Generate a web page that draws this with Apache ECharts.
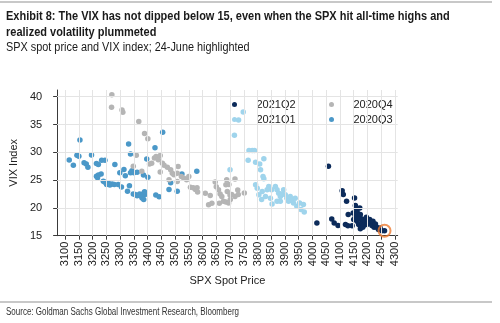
<!DOCTYPE html>
<html>
<head>
<meta charset="utf-8">
<script src="https://cdn.jsdelivr.net/npm/echarts@6/dist/echarts.min.js"></script>
<style>
html,body{margin:0;padding:0;background:#fff;}
#c{width:500px;height:323px;}
</style>
</head>
<body>
<div id="c"></div>
<script>
// ---- Data ----
var xTicks = [3100,3150,3200,3250,3300,3350,3400,3450,3500,3550,3600,3650,3700,3750,3800,3850,3900,3950,4000,4050,4100,4150,4200,4250,4300];
var yTicks = [15,20,25,30,35,40];

var names = ['2021Q2','2021Q1','2020Q4','2020Q3'];

var q3_2020 = [
 [3115,28.6],[3130,27.65],[3143,29.45],[3150,29.3],[3154,32.2],[3169,28.1],[3177,27.9],[3183,27.3],
 [3196,29.5],[3214,28.0],[3221,27.8],[3214,25.7],[3221,25.9],[3218,25.4],[3231,26.1],[3233,28.55],
 [3245,28.55],[3239,24.8],[3245,24.6],[3251,24.2],[3257,24.5],[3263,24.1],[3271,24.3],[3279,24.2],
 [3281,27.8],[3293,24.2],[3299,26.3],[3305,23.75],[3314,26.9],[3319,25.8],[3327,23.0],[3331,31.5],
 [3334,24.0],[3338,29.7],[3338,26.3],[3343,26.7],[3350,26.3],[3348,22.5],[3355,22.4],[3362,26.4],
 [3362,22.2],[3371,22.5],[3377,22.1],[3383,22.5],[3386,21.5],[3391,22.4],[3397,28.8],[3385,25.9],
 [3401,25.5],[3427,30.8],[3430,22.3],[3442,22.0],[3455,33.6],[3478,23.3],[3484,24.5],[3508,23.0],
 [3525,26.1],[3579,26.6],[3380,21.8],[3389,22.9]
];

var q4_2020 = [
 [3270,40.35],[3269,38.1],[3307,37.6],[3310,37.2],[3368,35.55],[3389,33.4],[3401,32.45],[3359,29.45],
 [3348,27.5],[3379,26.6],[3407,27.9],[3415,28.05],[3425,28.95],[3431,29.25],[3439,28.65],[3446,29.4],
 [3446,26.45],[3454,28.05],[3460,27.65],[3472,27.3],[3484,26.85],[3490,26.25],[3478,25.05],[3496,25.95],
 [3511,27.45],[3508,26.25],[3508,24.75],[3523,25.65],[3532,25.35],[3542,25.05],[3550,25.65],[3556,23.7],
 [3566,23.6],[3574,23.3],[3582,22.85],[3580,23.6],[3610,22.65],[3628,22.25],[3622,20.55],[3634,20.85],
 [3646,24.65],[3650,23.8],[3658,23.25],[3664,22.5],[3661,20.85],[3670,22.05],[3676,21.2],[3685,24.15],
 [3688,25.05],[3690,22.95],[3685,21.05],[3700,22.3],[3696,24.2],[3706,22.4],[3718,22.05],[3730,22.4],
 [3701,21.5],[3695,20.9],[3718,25.2],[3728,23.2],[3752,22.7]
];

var q1_2021 = [
 [3700,26.85],[3716,33.05],[3731,35.8],[3748,37.25],[3769,30.3],[3781,30.3],[3789,30.3],[3766,28.55],
 [3793,28.2],[3808,27.9],[3823,28.85],[3811,26.85],[3820,25.65],[3823,25.25],[3793,24.15],[3799,23.55],
 [3805,22.35],[3817,22.95],[3829,22.05],[3835,23.25],[3841,23.85],[3851,23.25],[3847,21.75],[3865,23.85],
 [3871,23.25],[3877,22.65],[3883,22.05],[3889,22.5],[3895,23.25],[3901,22.35],[3907,21.75],[3913,21.2],
 [3919,22.05],[3925,21.5],[3931,20.9],[3937,21.75],[3943,20.3],[3953,20.9],[3958,19.7],[3967,20.6],
 [3970,19.25],[3853,20.7],[3871,21.2],[3815,21.5],[3883,21.2]
];

var q2_2021 = [
 [4058,27.5],[4016,17.3],[4070,18.0],[4079,17.3],[4093,16.85],[4108,23.1],[4112,22.4],[4124,21.2],
 [4130,18.8],[4120,17.0],[4129,16.8],[4144,16.8],[4153,21.8],[4156,20.45],[4160,19.85],[4162,19.4],
 [4165,18.9],[4162,17.6],[4168,17.0],[4174,18.8],[4177,18.05],[4180,17.3],[4184,17.9],[4186,16.85],
 [4192,17.6],[4196,18.3],[4198,17.0],[4202,17.6],[4208,17.9],[4210,17.3],[4216,16.85],[4220,17.6],
 [4224,16.5],[4229,17.1],[4234,16.5],[4240,16.1],[4246,16.4],[4252,15.9],[4174,16.25],[4150,17.9],
 [4148,19.1],[4156,18.5],[4168,18.05],[4172,20.0],[4183,16.5],[4262,15.9]
];

var highlight24June = [[4262,15.9]];

var titleLine1 = 'Exhibit 8: The VIX has not dipped below 15, even when the SPX hit all-time highs and';
var titleLine2 = 'realized volatility plummeted';
var subtitle = 'SPX spot price and VIX index; 24-June highlighted';
var sourceText = 'Source: Goldman Sachs Global Investment Research, Bloomberg';

// ---- Chart ----
var chart = echarts.init(document.getElementById('c'), null, {renderer:'canvas'});
var colors = {'2021Q2':'#0c2b5a','2021Q1':'#9fd4ec','2020Q4':'#b5b5b5','2020Q3':'#4b98c8'};
var seriesData = {'2021Q2':q2_2021,'2021Q1':q1_2021,'2020Q4':q4_2020,'2020Q3':q3_2020};
var drawOrder = ['2020Q3','2020Q4','2021Q1','2021Q2'];

var gridColor = '#e4e4e4';
var series = drawOrder.map(function(n){
  return {name:n,type:'scatter',data:seriesData[n],symbol:'circle',symbolSize:5.5,
    itemStyle:{color:colors[n],opacity:1},emphasis:{disabled:true},z:3};
});
// gridlines drawn via markLine on a hidden helper series
series.unshift({
  name:'grid',type:'scatter',data:[],silent:true,z:1,
  markLine:{silent:true,symbol:['none','none'],label:{show:false},animation:false,
    lineStyle:{color:gridColor,width:1,type:'solid'},
    data: xTicks.map(function(v){return {xAxis:v};})
      .concat(yTicks.filter(function(v){return v>15;}).map(function(v){return {yAxis:v};}))
  }
});
series.push({name:'24-June',type:'scatter',data:highlight24June,symbol:'circle',symbolSize:12,
  itemStyle:{color:'rgba(0,0,0,0)',borderColor:'#ee7a30',borderWidth:2},z:5,emphasis:{disabled:true}});

var legPos = [
  {name:'2021Q2',left:232,top:98},
  {name:'2021Q1',left:232,top:113},
  {name:'2020Q4',left:329,top:98},
  {name:'2020Q3',left:329,top:113}
];
var sans = '"Liberation Sans", Arial, sans-serif';
var legends = legPos.map(function(p){
  return {data:[p.name],left:p.left,top:p.top,padding:0,itemWidth:6,itemHeight:5,
    icon:'circle',selectedMode:false,
    textStyle:{fontFamily:sans,fontSize:11,color:'#222',lineHeight:13,padding:[0,0,0,14]}};
});

function txt(t, x, y, size, weight, sx, color){
  return {type:'text',x:x,y:y,scaleX:sx,silent:true,
    style:{text:t,fontFamily:sans,fontSize:size,fontWeight:weight,fill:color,textVerticalAlign:'middle'}};
}

chart.setOption({
  animation:false,
  backgroundColor:'#fff',
  graphic:[
    {type:'rect',left:0,top:1,shape:{width:492,height:2},style:{fill:'#c8c8c8'},silent:true},
    {type:'rect',left:0,top:301,shape:{width:492,height:2},style:{fill:'#c8c8c8'},silent:true},
    txt(titleLine1,6,16.5,12.5,'bold',0.88,'#1a1a1a'),
    txt(titleLine2,6,32.5,12.5,'bold',0.88,'#1a1a1a'),
    txt(subtitle,6,48,12.5,'normal',0.87,'#1a1a1a'),
    txt(sourceText,6,312,10,'normal',0.8,'#333')
  ],
  legend:legends,
  grid:{left:51.3,right:102.3,top:90,bottom:87.3,containLabel:false},
  xAxis:{type:'value',min:3071,max:4310,
    name:'SPX Spot Price',nameLocation:'middle',nameGap:40,
    nameTextStyle:{fontFamily:sans,fontSize:11,color:'#222'},
    axisLine:{show:true,onZero:false,lineStyle:{color:'#3a3a3a',width:1}},
    axisTick:{show:true,customValues:xTicks,length:4,inside:false,lineStyle:{color:'#3a3a3a'}},
    axisLabel:{customValues:xTicks,rotate:90,fontFamily:sans,fontSize:11,color:'#222',margin:6,
      formatter:function(v){return String(v);}},
    splitLine:{show:false}
  },
  yAxis:{type:'value',min:15,max:41.2,
    name:'VIX Index',nameLocation:'middle',nameGap:22,nameRotate:90,
    nameTextStyle:{fontFamily:sans,fontSize:11,color:'#222'},
    axisLine:{show:true,onZero:false,lineStyle:{color:'#3a3a3a',width:1}},
    axisTick:{show:true,customValues:yTicks,length:4,inside:false,lineStyle:{color:'#3a3a3a'}},
    axisLabel:{customValues:yTicks,fontFamily:sans,fontSize:11,color:'#222',margin:15,
      formatter:function(v){return String(v);}},
    splitLine:{show:false}
  },
  series:series
});
</script>
</body>
</html>
